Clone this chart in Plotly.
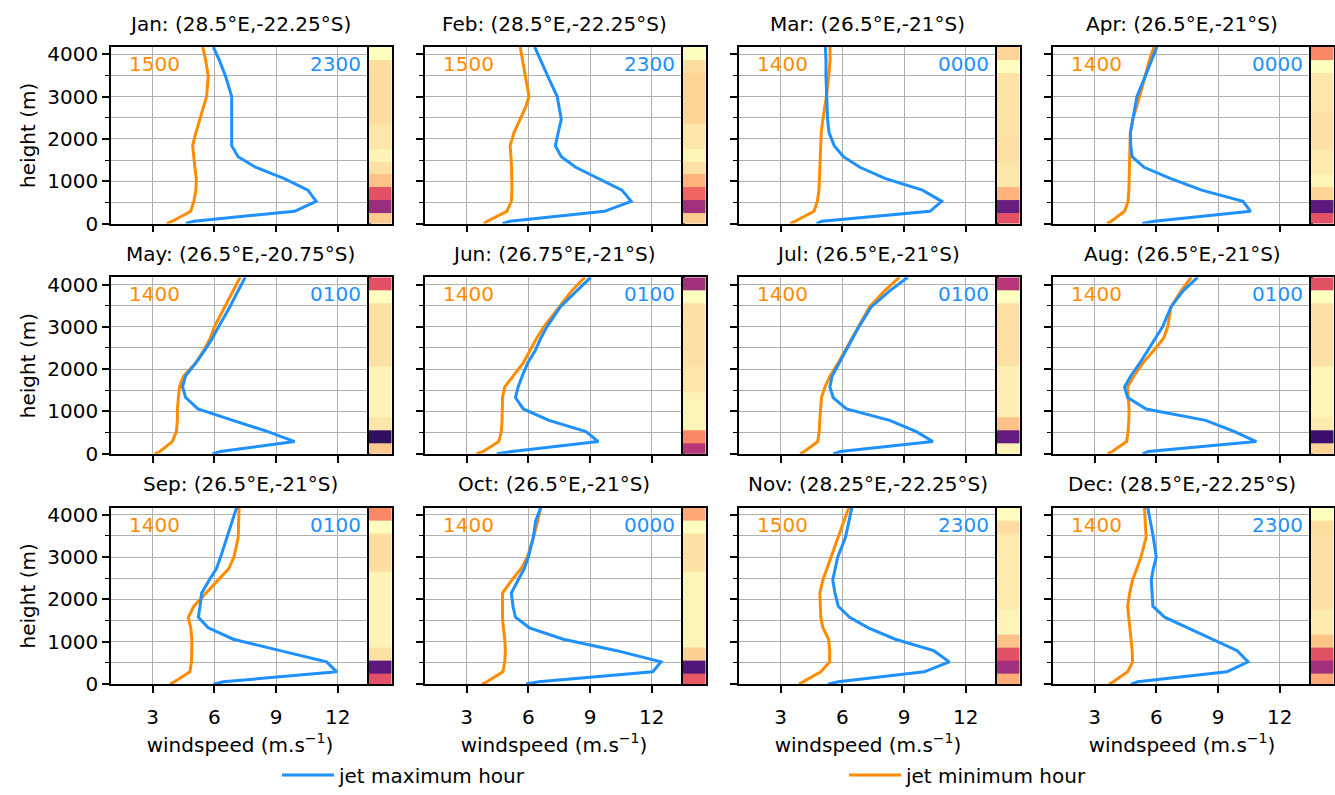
import plotly.graph_objects as go

# ---------------- data ----------------
heights = [0, 55, 290, 525, 790, 1060, 1330, 1580, 1840, 2150, 2460, 2730, 3000, 3470, 3850, 4170]
strip_edges = [0, 250, 560, 855, 1160, 1460, 1755, 2060, 2360, 2660, 2960, 3260, 3560, 3860, 4170]

months = ["Jan", "Feb", "Mar", "Apr", "May", "Jun", "Jul", "Aug", "Sep", "Oct", "Nov", "Dec"]
locations = ["(28.5°E,-22.25°S)", "(28.5°E,-22.25°S)", "(26.5°E,-21°S)", "(26.5°E,-21°S)",
             "(26.5°E,-20.75°S)", "(26.75°E,-21°S)", "(26.5°E,-21°S)", "(26.5°E,-21°S)",
             "(26.5°E,-21°S)", "(26.5°E,-21°S)", "(28.25°E,-22.25°S)", "(28.5°E,-22.25°S)"]
max_hours = ["2300", "2300", "0000", "0000", "0100", "0100", "0100", "0100", "0100", "0000", "2300", "2300"]
min_hours = ["1500", "1500", "1400", "1400", "1400", "1400", "1400", "1400", "1400", "1400", "1500", "1400"]

speed_max = [
    [4.6, 5.0, 9.9, 10.95, 10.55, 9.4, 8.0, 7.15, 6.84, 6.84, 6.84, 6.84, 6.84, 6.55, 6.25, 5.95],    # Jan
    [4.74, 5.1, 9.7, 11.0, 10.55, 9.4, 8.3, 7.6, 7.31, 7.45, 7.6, 7.5, 7.4, 6.95, 6.6, 6.31],         # Feb
    [4.74, 5.0, 10.26, 10.83, 9.9, 8.1, 6.85, 6.05, 5.6, 5.35, 5.28, 5.25, 5.22, 5.2, 5.2, 5.17],     # Mar
    [5.31, 5.9, 10.58, 10.21, 8.2, 6.7, 5.4, 4.82, 4.75, 4.74, 4.85, 4.95, 5.05, 5.45, 5.75, 6.02],   # Apr
    [5.9, 6.3, 9.9, 8.6, 6.9, 5.2, 4.6, 4.45, 4.6, 5.1, 5.55, 5.9, 6.2, 6.75, 7.15, 7.5],             # May
    [4.46, 5.2, 9.4, 8.8, 7.0, 5.75, 5.37, 5.5, 5.7, 5.97, 6.35, 6.6, 6.9, 7.55, 8.35, 9.03],         # Jun
    [5.55, 5.9, 10.4, 9.6, 8.3, 6.2, 5.55, 5.39, 5.5, 5.85, 6.2, 6.5, 6.8, 7.4, 8.3, 9.18],           # Jul
    [5.33, 5.6, 10.86, 9.8, 8.4, 5.5, 4.6, 4.45, 4.75, 5.2, 5.6, 5.95, 6.3, 6.71, 7.3, 8.0],          # Aug
    [5.95, 6.43, 11.95, 11.46, 9.2, 6.92, 5.7, 5.22, 5.3, 5.38, 5.75, 6.1, 6.3, 6.6, 6.85, 7.08],     # Sep
    [5.89, 6.5, 12.05, 12.45, 10.3, 7.7, 6.05, 5.37, 5.25, 5.17, 5.5, 5.8, 6.0, 6.24, 6.35, 6.6],     # Oct
    [5.3, 5.8, 9.98, 11.2, 10.44, 8.57, 7.26, 6.35, 5.8, 5.64, 5.53, 5.66, 5.77, 6.15, 6.3, 6.46],    # Nov
    [4.76, 5.09, 9.43, 10.46, 9.93, 8.7, 7.46, 6.4, 5.83, 5.78, 5.75, 5.85, 5.99, 5.85, 5.7, 5.58],   # Dec
]
speed_min = [
    [3.68, 3.95, 4.85, 5.0, 5.1, 5.12, 5.05, 4.98, 4.94, 5.1, 5.3, 5.45, 5.62, 5.7, 5.58, 5.43],      # Jan
    [3.83, 4.0, 4.95, 5.17, 5.2, 5.2, 5.18, 5.15, 5.11, 5.3, 5.6, 5.85, 6.03, 5.85, 5.72, 5.6],       # Feb
    [3.46, 3.7, 4.62, 4.78, 4.86, 4.88, 4.9, 4.92, 4.93, 4.97, 5.05, 5.15, 5.22, 5.33, 5.4, 5.4],     # Mar
    [3.6, 3.8, 4.45, 4.62, 4.66, 4.67, 4.68, 4.7, 4.72, 4.73, 4.85, 5.0, 5.18, 5.45, 5.65, 5.88],     # Apr
    [3.1, 3.35, 3.95, 4.15, 4.2, 4.2, 4.25, 4.3, 4.5, 5.1, 5.5, 5.8, 6.0, 6.5, 6.9, 7.25],            # May
    [3.46, 3.8, 4.56, 4.68, 4.72, 4.73, 4.74, 4.85, 5.25, 5.75, 6.1, 6.4, 6.75, 7.5, 8.1, 8.74],      # Jun
    [3.94, 4.15, 4.8, 4.87, 4.9, 4.95, 4.98, 5.15, 5.4, 5.8, 6.15, 6.45, 6.75, 7.32, 8.05, 8.77],     # Jul
    [3.62, 3.85, 4.55, 4.62, 4.66, 4.67, 4.63, 4.6, 4.9, 5.35, 5.9, 6.35, 6.55, 6.71, 7.2, 7.69],     # Aug
    [3.84, 4.05, 4.81, 4.88, 4.9, 4.9, 4.85, 4.73, 5.0, 5.6, 6.2, 6.7, 6.95, 7.16, 7.18, 7.2],        # Sep
    [3.74, 3.98, 4.76, 4.85, 4.88, 4.85, 4.78, 4.74, 4.74, 4.74, 5.2, 5.65, 5.95, 6.25, 6.45, 6.6],   # Oct
    [3.89, 4.1, 4.95, 5.38, 5.38, 5.33, 5.05, 4.95, 4.92, 4.9, 5.05, 5.25, 5.45, 5.8, 6.05, 6.31],    # Nov
    [3.7, 3.9, 4.6, 4.84, 4.82, 4.76, 4.7, 4.65, 4.6, 4.7, 4.84, 5.05, 5.25, 5.5, 5.47, 5.42],        # Dec
]
# colour-strip values (bottom -> top), position on the magma scale
strip_vals = [
    [0.89, 0.43, 0.62, 0.87, 0.94, 0.98, 0.95, 0.95, 0.93, 0.93, 0.93, 0.93, 0.93, 1.0],
    [0.89, 0.45, 0.67, 0.84, 0.94, 0.98, 0.95, 0.95, 0.91, 0.91, 0.91, 0.91, 0.93, 1.0],
    [0.62, 0.31, 0.84, 0.95, 0.95, 0.94, 0.94, 0.945, 0.945, 0.945, 0.945, 0.945, 1.0, 0.91],
    [0.62, 0.28, 0.91, 0.98, 0.96, 0.96, 0.94, 0.94, 0.94, 0.95, 0.95, 0.95, 1.0, 0.75],
    [0.89, 0.17, 0.95, 0.98, 0.98, 0.98, 0.98, 0.94, 0.94, 0.94, 0.94, 0.94, 1.0, 0.62],
    [0.5, 0.75, 0.98, 0.98, 0.98, 0.95, 0.95, 0.94, 0.94, 0.94, 0.94, 0.94, 1.0, 0.45],
    [0.98, 0.3, 0.87, 0.97, 0.97, 0.97, 0.97, 0.94, 0.94, 0.94, 0.94, 0.94, 1.0, 0.5],
    [0.91, 0.2, 0.96, 0.98, 0.98, 0.98, 0.98, 0.94, 0.94, 0.94, 0.94, 0.94, 1.0, 0.62],
    [0.62, 0.28, 0.94, 0.98, 0.98, 0.98, 0.98, 0.98, 0.98, 0.93, 0.93, 0.93, 1.0, 0.75],
    [0.64, 0.25, 0.9, 0.98, 0.98, 0.98, 0.98, 0.98, 0.98, 0.94, 0.94, 0.94, 1.0, 0.82],
    [0.83, 0.45, 0.62, 0.87, 0.98, 0.98, 0.96, 0.96, 0.96, 0.96, 0.96, 0.96, 0.93, 1.0],
    [0.82, 0.45, 0.62, 0.88, 0.96, 0.96, 0.94, 0.94, 0.94, 0.94, 0.94, 0.94, 0.93, 1.0],
]
xticks = [3, 6, 9, 12]

# ---------------- style ----------------
W, H = 1335, 795
BLUE = "#1e90ff"
ORANGE = "#ff8c00"
GRID = "#b0b0b0"
FONT = "DejaVu Sans"
FS = 20
magma = [[0.0, "#000004"], [0.1, "#140e36"], [0.2, "#3b0f70"], [0.3, "#641a80"],
         [0.4, "#8c2981"], [0.5, "#b73779"], [0.6, "#de4968"], [0.7, "#f7705c"],
         [0.8, "#fe9f6d"], [0.9, "#fecf92"], [1.0, "#fcfdbf"]]


def sfx(k):
    return "" if k == 1 else str(k)


fig = go.Figure()
layout = {}
annotations = []

for i in range(12):
    r, c = divmod(i, 4)
    left = 111 + 314 * c
    right = 369 + 314 * c
    sright = 391.5 + 314 * c
    top = 47.7 + 233.5 * r
    bot = 226.7 + 233.5 * r
    km = 2 * i + 1
    ks = 2 * i + 2
    xm, ym, xs, ys = "x" + sfx(km), "y" + sfx(km), "x" + sfx(ks), "y" + sfx(ks)
    ydom = [1 - bot / H, 1 - top / H]

    fig.add_trace(go.Scatter(x=speed_min[i], y=heights, xaxis=xm, yaxis=ym, mode="lines",
                             line=dict(color=ORANGE, width=3), name="jet minimum hour",
                             legend="legend2", showlegend=(i == 0)))
    fig.add_trace(go.Scatter(x=speed_max[i], y=heights, xaxis=xm, yaxis=ym, mode="lines",
                             line=dict(color=BLUE, width=3), name="jet maximum hour",
                             legend="legend", showlegend=(i == 0)))
    fig.add_trace(go.Heatmap(z=[[v] for v in strip_vals[i]], x=[0, 1], y=strip_edges,
                             xaxis=xs, yaxis=ys, colorscale=magma, zmin=0, zmax=1,
                             showscale=False, hoverinfo="skip"))

    xax = dict(
        domain=[left / W, right / W], anchor=ym, range=[0.97, 13.52],
        tickvals=xticks, ticktext=[str(v) for v in xticks], ticks="outside", ticklen=7,
        tickwidth=1.5, tickcolor="black", showticklabels=(r == 2), ticklabelstandoff=7,
        showgrid=True, gridcolor=GRID, gridwidth=1.3,
        showline=True, mirror=True, linecolor="black", linewidth=1.5, zeroline=False,
        tickfont=dict(family=FONT, size=FS, color="black"),
        automargin=False,
    )
    if r == 2:
        xax["title"] = dict(text="windspeed (m.s<sup>−1</sup>)",
                            font=dict(family=FONT, size=FS, color="black"), standoff=10)
    layout["xaxis" + sfx(km)] = xax

    yax = dict(
        domain=ydom, anchor=xm, range=[0, 4170], tick0=0, dtick=1000,
        ticks="outside", ticklen=7, tickwidth=1.5, tickcolor="black",
        showticklabels=(c == 0),
        showgrid=True, gridcolor=GRID, gridwidth=1.3,
        minor=dict(dtick=500, tick0=0, ticks="outside", ticklen=4, tickwidth=1.3,
                   tickcolor="black", showgrid=True, gridcolor=GRID, gridwidth=1.3),
        showline=True, mirror=True, linecolor="black", linewidth=1.5, zeroline=False,
        tickfont=dict(family=FONT, size=FS, color="black"),
        automargin=False,
    )
    if c == 0:
        yax["title"] = dict(text="height (m)", font=dict(family=FONT, size=FS, color="black"),
                            standoff=6)
    layout["yaxis" + sfx(km)] = yax

    layout["xaxis" + sfx(ks)] = dict(
        domain=[right / W, sright / W], anchor=ys, range=[0, 1],
        showticklabels=False, ticks="", showgrid=False, zeroline=False,
        showline=True, mirror=True, linecolor="black", linewidth=1.5,
    )
    layout["yaxis" + sfx(ks)] = dict(
        domain=ydom, anchor=xs, range=[0, 4170],
        showticklabels=False, ticks="", showgrid=False, zeroline=False,
        showline=True, mirror=True, linecolor="black", linewidth=1.5,
    )

    annotations.append(dict(text=f"{months[i]}: {locations[i]}", xref=f"{xm} domain",
                            yref=f"{ym} domain", x=0.5, y=1 + 23.5 / 179, xanchor="center",
                            yanchor="middle", showarrow=False,
                            font=dict(family=FONT, size=FS, color="black")))
    annotations.append(dict(text=min_hours[i], xref=f"{xm} domain", yref=ym,
                            x=16 / 258, y=3770, xanchor="left", yanchor="middle",
                            showarrow=False, font=dict(family=FONT, size=FS, color=ORANGE)))
    annotations.append(dict(text=max_hours[i], xref=f"{xm} domain", yref=ym,
                            x=1 - 6 / 258, y=3770, xanchor="right", yanchor="middle",
                            showarrow=False, font=dict(family=FONT, size=FS, color=BLUE)))

legend_style = dict(orientation="h", yanchor="middle", xanchor="left", itemwidth=52,
                    font=dict(family=FONT, size=FS, color="black"),
                    bgcolor="rgba(0,0,0,0)", borderwidth=0)

fig.update_layout(
    width=W, height=H, margin=dict(l=0, r=0, t=0, b=0),
    paper_bgcolor="white", plot_bgcolor="white",
    font=dict(family=FONT, size=FS, color="black"),
    annotations=annotations,
    showlegend=True,
    legend=dict(x=277 / W, y=1 - 786 / H, **legend_style),
    legend2=dict(x=844 / W, y=1 - 786 / H, **legend_style),
    **layout,
)

post = ("document.body.style.margin='0px';"
        "document.body.style.overflow='hidden';"
        "var d=document.getElementById('{plot_id}');"
        "d.style.position='fixed';d.style.top='0px';d.style.left='0px';"
        "var vh=window.innerHeight;"
        "if(vh>600&&vh<1100&&Math.abs(vh-795)>1){Plotly.relayout(d,{height:vh});}")

fig.write_html("out.html", config={"displayModeBar": False}, post_script=post)
